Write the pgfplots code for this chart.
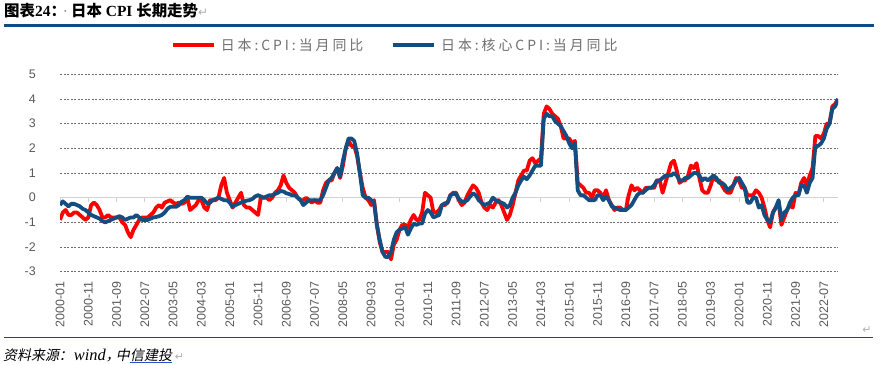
\documentclass[border=0pt]{standalone}
\usepackage{fontspec}
\usepackage{pgfplots}
\usepackage{pgfplotstable}
\pgfplotsset{compat=1.18}
\setmainfont{Liberation Serif}
\newfontfamily\cjk{Noto Sans CJK SC}
\newfontfamily\cjkit[FakeSlant=0.2]{Noto Sans CJK SC}
\newfontfamily\legfont[LetterSpace=21]{Noto Sans CJK SC}
\newfontfamily\arial{Liberation Sans}
\newfontfamily\sym{DejaVu Sans}
\definecolor{cpired}{RGB}{255,0,0}
\definecolor{coreblue}{RGB}{20,78,128}
\definecolor{navy}{RGB}{16,76,130}
\definecolor{txtgray}{RGB}{89,89,89}
\definecolor{leggray}{RGB}{110,110,110}
\definecolor{gridgray}{RGB}{110,110,110}
\definecolor{zerogray}{RGB}{210,210,210}
\definecolor{markgray}{RGB}{175,175,175}
\definecolor{linkblue}{RGB}{40,80,200}

% Japan CPI YoY (cpi) and core CPI YoY (core), monthly 2000-01 .. 2022-12
\pgfplotstableread[row sep=\\]{
cpi core\\
-0.9 -0.3\\ -0.6 -0.15\\ -0.5 -0.25\\ -0.7 -0.35\\ -0.7 -0.25\\ -0.6 -0.25\\ -0.6 -0.3\\ -0.7 -0.35\\ -0.8 -0.45\\ -0.9 -0.5\\ -0.8 -0.6\\ -0.3 -0.7\\
-0.2 -0.75\\ -0.3 -0.8\\ -0.5 -0.85\\ -0.8 -0.95\\ -0.8 -1.0\\ -0.7 -0.95\\ -0.8 -0.9\\ -0.8 -0.85\\ -0.8 -0.8\\ -0.8 -0.75\\ -1.0 -0.8\\ -1.1 -0.9\\
-1.4 -0.85\\ -1.6 -0.8\\ -1.3 -0.8\\ -1.1 -0.7\\ -0.9 -0.8\\ -0.8 -0.9\\ -0.8 -0.9\\ -0.8 -0.9\\ -0.7 -0.85\\ -0.6 -0.8\\ -0.4 -0.78\\ -0.3 -0.75\\
-0.4 -0.7\\ -0.2 -0.6\\ -0.15 -0.45\\ -0.1 -0.37\\ -0.2 -0.37\\ -0.25 -0.37\\ -0.2 -0.3\\ -0.25 -0.16\\ -0.2 -0.1\\ 0.0 0.04\\ -0.5 0.0\\ -0.4 0.0\\
-0.3 0.0\\ -0.1 0.0\\ -0.1 0.0\\ -0.4 -0.1\\ -0.5 -0.23\\ -0.1 -0.2\\ -0.1 -0.1\\ -0.1 -0.05\\ 0.0 0.0\\ 0.5 -0.05\\ 0.8 -0.1\\ 0.2 -0.1\\
-0.1 -0.2\\ -0.4 -0.37\\ -0.2 -0.3\\ 0.0 -0.25\\ 0.2 -0.2\\ -0.3 -0.16\\ -0.4 -0.12\\ -0.4 -0.1\\ -0.5 -0.05\\ -0.6 0.05\\ -0.7 0.1\\ 0.0 0.05\\
0.0 0.0\\ 0.0 0.05\\ -0.1 0.1\\ 0.0 0.1\\ 0.2 0.15\\ 0.3 0.2\\ 0.5 0.27\\ 0.9 0.25\\ 0.6 0.18\\ 0.4 0.15\\ 0.3 0.1\\ 0.2 0.1\\
0.0 0.0\\ -0.1 -0.1\\ -0.1 -0.3\\ 0.0 -0.2\\ -0.1 -0.1\\ -0.2 -0.1\\ -0.1 -0.1\\ -0.2 -0.1\\ -0.2 -0.1\\ 0.3 0.1\\ 0.6 0.4\\ 0.7 0.7\\
0.7 0.8\\ 1.0 1.0\\ 1.2 1.2\\ 0.8 0.85\\ 1.3 1.5\\ 2.0 2.0\\ 2.3 2.4\\ 2.1 2.4\\ 2.1 2.3\\ 1.7 1.8\\ 1.0 1.0\\ 0.4 0.1\\
0.0 0.0\\ -0.1 0.0\\ -0.3 -0.1\\ -0.1 -0.2\\ -1.1 -1.1\\ -1.8 -1.7\\ -2.2 -2.2\\ -2.2 -2.4\\ -2.2 -2.4\\ -2.5 -2.2\\ -1.9 -1.7\\ -1.7 -1.4\\
-1.3 -1.3\\ -1.1 -1.25\\ -1.1 -1.2\\ -1.2 -1.5\\ -0.9 -1.25\\ -0.7 -1.05\\ -0.9 -1.1\\ -0.9 -1.05\\ -0.6 -1.05\\ 0.2 -0.65\\ 0.1 -0.5\\ 0.0 -0.6\\
-0.6 -0.8\\ -0.6 -0.75\\ -0.5 -0.7\\ -0.3 -0.3\\ -0.3 -0.23\\ -0.2 -0.2\\ 0.1 0.1\\ 0.2 0.15\\ 0.2 0.15\\ -0.1 -0.05\\ -0.3 -0.15\\ -0.2 -0.16\\
0.1 -0.1\\ 0.3 0.05\\ 0.5 0.18\\ 0.4 0.1\\ 0.2 -0.1\\ -0.2 -0.2\\ -0.4 -0.3\\ -0.5 -0.25\\ -0.3 -0.2\\ -0.4 0.0\\ -0.2 -0.1\\ -0.1 -0.16\\
-0.3 -0.2\\ -0.6 -0.25\\ -0.9 -0.4\\ -0.7 -0.3\\ -0.3 0.0\\ 0.2 0.2\\ 0.7 0.5\\ 0.9 0.7\\ 1.1 0.85\\ 1.1 0.75\\ 1.5 0.9\\ 1.6 1.1\\
1.4 1.3\\ 1.5 1.3\\ 1.6 1.3\\ 3.4 3.2\\ 3.7 3.4\\ 3.6 3.3\\ 3.4 3.3\\ 3.3 3.1\\ 3.2 3.0\\ 2.9 2.9\\ 2.4 2.7\\ 2.4 2.5\\
2.4 2.2\\ 2.2 2.0\\ 2.3 2.2\\ 0.6 0.3\\ 0.5 0.1\\ 0.4 0.1\\ 0.2 0.0\\ 0.2 -0.1\\ 0.0 -0.1\\ 0.3 -0.1\\ 0.3 0.1\\ 0.2 0.1\\
0.0 -0.1\\ 0.3 0.05\\ -0.1 -0.1\\ -0.3 -0.35\\ -0.5 -0.4\\ -0.4 -0.45\\ -0.4 -0.5\\ -0.5 -0.5\\ -0.5 -0.5\\ 0.1 -0.4\\ 0.5 -0.3\\ 0.3 -0.1\\
0.4 0.1\\ 0.3 0.2\\ 0.2 0.2\\ 0.4 0.3\\ 0.4 0.4\\ 0.4 0.4\\ 0.4 0.5\\ 0.7 0.7\\ 0.7 0.7\\ 0.2 0.8\\ 0.6 0.9\\ 1.0 0.9\\
1.4 0.9\\ 1.5 1.0\\ 1.1 0.9\\ 0.6 0.7\\ 0.7 0.7\\ 0.7 0.8\\ 0.9 0.8\\ 1.3 0.9\\ 1.2 1.0\\ 1.4 1.0\\ 0.8 0.9\\ 0.3 0.7\\
0.2 0.8\\ 0.2 0.7\\ 0.5 0.8\\ 0.9 0.9\\ 0.7 0.8\\ 0.7 0.6\\ 0.5 0.6\\ 0.3 0.5\\ 0.2 0.3\\ 0.2 0.4\\ 0.5 0.5\\ 0.8 0.7\\
0.7 0.8\\ 0.4 0.6\\ 0.4 0.4\\ 0.1 -0.2\\ 0.1 -0.2\\ 0.1 0.0\\ 0.3 0.0\\ 0.2 -0.4\\ 0.0 -0.3\\ -0.4 -0.7\\ -0.9 -0.9\\ -1.2 -1.0\\
-0.6 -0.6\\ -0.4 -0.4\\ -0.2 -0.1\\ -1.1 -0.9\\ -0.8 -0.6\\ -0.5 -0.5\\ -0.3 -0.2\\ -0.4 0.0\\ 0.2 0.1\\ 0.1 0.1\\ 0.6 0.5\\ 0.8 0.5\\
0.5 0.2\\ 0.9 0.6\\ 1.2 0.8\\ 2.5 2.1\\ 2.5 2.1\\ 2.4 2.2\\ 2.6 2.4\\ 3.0 2.8\\ 3.0 3.0\\ 3.7 3.6\\ 3.8 3.7\\ 4.0 4.0\\
}\datatable

\begin{document}
\begin{tikzpicture}[x=1bp,y=1bp]
\path[use as bounding box] (0,0) rectangle (883,-364);

% title
\node[anchor=base west, inner sep=0pt, font=\fontsize{15.5}{17}\selectfont] at (4,-16.8)
  {{\cjk\bfseries 图表}{\bfseries 24}{\cjk\bfseries ：}\hspace{-3bp}{\color{gray}·}\hspace{3bp}{\cjk\bfseries 日本} {\bfseries CPI} {\cjk\bfseries 长期走势}{\sym\color{markgray}\fontsize{12}{12}\selectfont ↵}};
\draw[navy, line width=2.3bp] (4,-25.5) -- (874,-25.5);

\begin{axis}[
  at={(60bp,-271.7bp)}, anchor=south west,
  scale only axis, width=778bp, height=197.4bp,
  xmin=0, xmax=275, ymin=-3, ymax=5,
  axis line style={draw=none},
  major tick length=0pt,
  ytick={-3,-2,-1,0,1,2,3,4,5},
  yticklabels={-3,-2,-1,0,1,2,3,4,5},
  ymajorgrids,
  grid style={gridgray, dash pattern=on 2bp off 1.5bp, line width=0.7bp},
  xtick={0,10,...,270},
  xticklabels={2000-01,2000-11,2001-09,2002-07,2003-05,2004-03,2005-01,2005-11,2006-09,2007-07,2008-05,2009-03,2010-01,2010-11,2011-09,2012-07,2013-05,2014-03,2015-01,2015-11,2016-09,2017-07,2018-05,2019-03,2020-01,2020-11,2021-09,2022-07},
  yticklabel style={font=\arial\fontsize{12.5}{14}\selectfont, text=txtgray, anchor=east, inner sep=0pt, xshift=-24bp},
  xticklabel style={font=\arial\fontsize{12.5}{14}\selectfont, text=txtgray, yshift=-10bp, rotate=90, anchor=east, inner sep=0pt},
  legend columns=2,
  legend style={at={(0.1427,1.148)}, anchor=west, draw=none, fill=none, inner sep=0pt, outer sep=0pt,
    font=\legfont\fontsize{14}{16}\selectfont, text=leggray,
    nodes={inner sep=0pt},
    /tikz/every odd column/.append style={column sep=5bp},
    /tikz/every even column/.append style={column sep=28bp}},
  legend image code/.code={\draw[#1] (0bp,0bp) -- (41bp,0bp);},
]
\draw[zerogray, line width=1.2bp] (axis cs:0,0) -- (axis cs:275,0);
\pgfplotsinvokeforeach{0,10,...,270}{\draw[zerogray, line width=1bp] (axis cs:#1,0) -- ++(0bp,-4bp);}
\addplot[cpired, line width=3.8bp, line join=round] table[x expr=\coordindex, y=cpi]{\datatable};
\addlegendentry{日本:CPI:当月同比}
\addplot[coreblue, line width=3.8bp, line join=round] table[x expr=\coordindex, y=core]{\datatable};
\addlegendentry{日本:核心CPI:当月同比}
\end{axis}

\draw[navy, line width=1.5bp] (4,-337.7) -- (873,-337.7);
\node[inner sep=0pt, font=\sym\fontsize{11}{11}\selectfont, text=markgray] at (867,-330) {↵};

% source
\node[anchor=base west, inner sep=0pt, font=\fontsize{14}{16}\selectfont] (srcA) at (3,-360.5)
  {{\cjkit 资料来源：}\hspace{1bp}{\itshape\fontsize{16.5}{17}\selectfont wind}{\cjkit ，}\hspace{-4bp}{\cjkit 中}};
\node[anchor=base west, inner sep=0pt, font=\fontsize{14}{16}\selectfont] (srcB) at (srcA.base east)
  {\cjkit 信建投};
\draw[linkblue, line width=1bp] ([yshift=-2.3bp]srcB.base west) -- ([yshift=-2.3bp]srcB.base east);
\node[anchor=base west, inner sep=0pt, font=\sym\fontsize{11}{11}\selectfont, text=markgray] at ([xshift=2.5bp]srcB.base east) {↵};
\end{tikzpicture}
\end{document}
